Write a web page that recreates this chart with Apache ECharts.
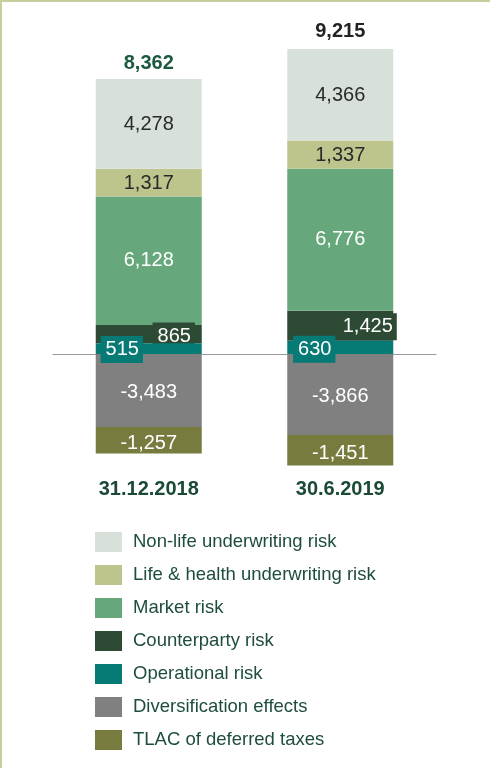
<!DOCTYPE html>
<html>
<head>
<meta charset="utf-8">
<script src="https://cdn.jsdelivr.net/npm/echarts@6/dist/echarts.min.js"></script>
<style>
  html, body { margin: 0; padding: 0; background: #fff; }
  #chart { width: 490px; height: 768px; }
</style>
</head>
<body>
<div id="chart"></div>
<script>
var categories = ['31.12.2018', '30.6.2019'];
var nonLife = [4278, 4366];
var lifeHealth = [1317, 1337];
var market = [6128, 6776];
var counterparty = [865, 1425];
var operational = [515, 630];
var diversification = [-3483, -3866];
var tlac = [-1257, -1451];
var totals = [8362, 9215];

var FONT = '"Liberation Sans", Arial, sans-serif';
var colors = {
    nonLife: '#d8e0da',
    life: '#bdc58d',
    market: '#66a87c',
    counter: '#2c4a34',
    oper: '#067a74',
    divers: '#808080',
    tlac: '#777c3e'
};

function fmt(v) {
    return Number(v).toLocaleString('en-US');
}

function insideLabel(color, offset) {
    return {
        show: true,
        position: 'inside',
        offset: offset || [0, 0],
        color: color,
        fontFamily: FONT,
        fontSize: 20,
        formatter: function (p) { return fmt(p.value); }
    };
}

// labels with a coloured box, shifted sideways as in the report
function boxItems(values, bg, offsets) {
    var out = [];
    for (var i = 0; i < values.length; i++) {
        out.push({
            value: values[i],
            label: {
                show: true,
                position: 'inside',
                offset: offsets[i],
                color: '#fff',
                fontFamily: FONT,
                fontSize: 20,
                backgroundColor: bg,
                padding: [4, 4, 3, 5],
                formatter: function (p) { return fmt(p.value); }
            }
        });
    }
    return out;
}

var barW = 106;
var series = [
    {
        name: 'Operational risk', type: 'bar', stack: 'a', barWidth: barW,
        itemStyle: { color: colors.oper },
        data: boxItems(operational, colors.oper, [[-27, 1], [-26, 2]]),
        z: 3
    },
    {
        name: 'Counterparty risk', type: 'bar', stack: 'a', barWidth: barW,
        itemStyle: { color: colors.counter },
        data: boxItems(counterparty, colors.counter, [[25, 2], [27, 1]])
    },
    {
        name: 'Market risk', type: 'bar', stack: 'a', barWidth: barW,
        itemStyle: { color: colors.market },
        label: insideLabel('#fff'),
        data: market
    },
    {
        name: 'Life & health underwriting risk', type: 'bar', stack: 'a', barWidth: barW,
        itemStyle: { color: colors.life },
        label: insideLabel('#2a2a2a', [0, 1]),
        data: lifeHealth
    },
    {
        name: 'Non-life underwriting risk', type: 'bar', stack: 'a', barWidth: barW,
        itemStyle: { color: colors.nonLife },
        label: insideLabel('#2a2a2a', [0, 1]),
        data: nonLife
    },
    {
        // zero-height bar on top of the stack, only carries the total label
        name: 'total', type: 'bar', stack: 'a', barWidth: barW,
        itemStyle: { color: 'rgba(0,0,0,0)' },
        data: [
            { value: 0, label: { distance: 6, color: '#1b5a3e' } },
            { value: 0, label: { distance: 7, color: '#222222' } }
        ],
        label: {
            show: true,
            position: 'top',
            fontFamily: FONT,
            fontSize: 20,
            fontWeight: 'bold',
            formatter: function (p) { return fmt(totals[p.dataIndex]); }
        }
    },
    {
        name: 'Diversification effects', type: 'bar', stack: 'a', barWidth: barW,
        itemStyle: { color: colors.divers },
        label: insideLabel('#fff', [0, 2]),
        data: diversification
    },
    {
        name: 'TLAC of deferred taxes', type: 'bar', stack: 'a', barWidth: barW,
        itemStyle: { color: colors.tlac },
        label: insideLabel('#fff', [0, 3]),
        data: tlac
    }
];

var myChart = echarts.init(document.getElementById('chart'));
var option = {
    backgroundColor: '#fff',
    animation: false,
    grid: {
        left: 53,
        right: 54,
        top: 18.2,
        bottom: 288.1
    },
    legend: {
        orient: 'vertical',
        left: 90,
        top: 527,
        icon: 'rect',
        itemWidth: 27,
        itemHeight: 20,
        itemGap: 13,
        selectedMode: false,
        textStyle: {
            color: '#1e4d3b',
            fontFamily: FONT,
            fontSize: 18.5,
            lineHeight: 20,
            padding: [0, 0, 0, 6]
        },
        data: [
            'Non-life underwriting risk',
            'Life & health underwriting risk',
            'Market risk',
            'Counterparty risk',
            'Operational risk',
            'Diversification effects',
            'TLAC of deferred taxes'
        ]
    },
    xAxis: [{
        type: 'category',
        data: categories,
        axisLine: { onZero: true, lineStyle: { color: '#9a9a9a', width: 1 } },
        axisTick: { show: false },
        axisLabel: { show: false }
    }, {
        type: 'category',
        position: 'bottom',
        data: categories,
        axisLine: { show: false, onZero: false },
        axisTick: { show: false },
        axisLabel: {
            margin: 0,
            color: '#1a4a36',
            fontFamily: FONT,
            fontSize: 20,
            fontWeight: 'bold'
        }
    }],
    yAxis: {
        type: 'value',
        min: -6000,
        max: 16000,
        show: false,
        splitLine: { show: false }
    },
    graphic: [
        { type: 'line', shape: { x1: 0, y1: 1, x2: 490, y2: 1 }, style: { stroke: '#c8cf9e', lineWidth: 2 } },
        { type: 'line', shape: { x1: 1, y1: 0, x2: 1, y2: 768 }, style: { stroke: '#c8cf9e', lineWidth: 2 } }
    ],
    series: series
};
myChart.setOption(option);
window.onresize = myChart.resize;
</script>
</body>
</html>
